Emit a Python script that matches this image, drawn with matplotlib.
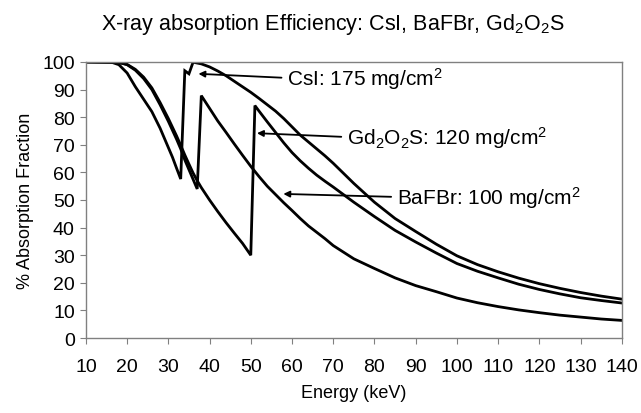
import numpy as np
import matplotlib.pyplot as plt

plt.rcParams['font.family'] = ['Liberation Sans', 'DejaVu Sans']
plt.rcParams['mathtext.fontset'] = 'custom'
plt.rcParams['mathtext.rm'] = 'Liberation Sans'
plt.rcParams['mathtext.it'] = 'Liberation Sans:italic'

# CsI 175 mg/cm2 (I K-edge ~33 keV, Cs K-edge ~36 keV)
csi_e = [10, 16, 18, 20, 22, 24, 26, 28, 30, 31, 32, 33, 34, 35, 36, 38, 40, 42, 44, 46, 48, 50,
         52, 54, 56, 58, 60, 62, 64, 66, 68, 70, 75, 80, 85, 90, 95, 100, 105, 110, 115, 120,
         125, 130, 135, 140]
csi_y = [100, 100, 99, 96, 91, 86.5, 82, 76, 69, 65.5, 61.5, 57.6, 96.8, 95.7, 99.9, 99.3, 98.2,
         96.7, 95, 93, 91, 89, 86.8, 84.5, 82.2, 79.5, 76.5, 73.5, 71, 68.5, 66, 63.3, 56,
         49.2, 43.3, 38.6, 34, 29.8, 26.6, 24, 21.7, 19.7, 18, 16.5, 15.2, 14.1]

# BaFBr 100 mg/cm2 (Ba K-edge ~37.4 keV)
bafbr_e = [10, 18, 20, 22, 24, 26, 28, 30, 32, 33, 34, 35, 36, 37, 38, 39, 40, 42, 44, 46, 48, 50,
           52, 54, 56, 58, 60, 62, 64, 66, 68, 70, 75, 80, 85, 90, 95, 100, 105, 110, 115, 120,
           125, 130, 135, 140]
bafbr_y = [100, 99.8, 99, 97, 94, 90, 84.5, 78.5, 72, 68.5, 64.5, 61, 57.5, 54, 87.8, 85.5, 83.2,
           78.6, 74.5, 70.3, 66.2, 62.2, 58.5, 55, 52, 49, 46.2, 43.3, 40.6, 38.3, 36, 33.5,
           28.7, 25.2, 21.8, 19, 16.8, 14.5, 12.8, 11.4, 10.2, 9.2, 8.3, 7.6, 6.9, 6.4]

# Gd2O2S 120 mg/cm2 (Gd K-edge ~50.2 keV)
gos_e = [10, 18, 20, 22, 24, 26, 28, 30, 32, 33, 34, 35, 36, 37, 38, 40, 42, 44, 46, 48, 50, 51,
         52, 54, 56, 58, 60, 62, 64, 66, 68, 70, 75, 80, 85, 90, 95, 100, 105, 110, 115, 120,
         125, 130, 135, 140]
gos_y = [100, 99.8, 99.1, 97.3, 94.5, 90.6, 85.3, 79.5, 73.2, 69.8, 66.3, 63, 59.8, 57, 54.5, 50,
         45.8, 41.8, 38, 34.3, 30, 84.2, 82.2, 78.3, 74.5, 70.7, 67.2, 64.2, 61.5, 59, 56.8, 54.7,
         49.2, 44, 39, 34.8, 30.8, 27, 24.2, 21.8, 19.5, 17.6, 16, 14.6, 13.6, 12.7]

fig = plt.figure(figsize=(6.41, 4.14), dpi=100)
ax = fig.add_axes([0.134, 0.181, 0.836, 0.667])

for e, y in [(csi_e, csi_y), (bafbr_e, bafbr_y), (gos_e, gos_y)]:
    ax.plot(e, y, color='black', lw=2, solid_joinstyle='miter')

ax.set_xlim(10, 140)
ax.set_ylim(0, 100)
ax.set_xticks(np.arange(10, 141, 10))
ax.set_yticks(np.arange(0, 101, 10))
for s in ax.spines.values():
    s.set_color('#808080')
    s.set_linewidth(1)
ax.tick_params(axis='both', direction='out', length=4, color='#808080', labelsize=14)
ax.tick_params(axis='x', pad=10)
ax.tick_params(axis='y', pad=4)

ax.set_xlabel('Energy (keV)', fontsize=13, labelpad=7)
ax.set_ylabel('% Absorption Fraction', fontsize=13, labelpad=6)
fig.suptitle('X-ray absorption Efficiency: CsI, BaFBr, Gd$_2$O$_2$S', fontsize=15.5, x=0.52, y=0.972)

arrow = dict(arrowstyle='-|>', color='black', lw=1.3, mutation_scale=9, relpos=(0, 0.5), shrinkB=0)
ax.annotate('CsI: 175 mg/cm$^2$', xy=(37.3, 95.7), xytext=(58.8, 94.2),
            fontsize=15, va='center', ha='left', arrowprops=arrow)
ax.annotate('Gd$_2$O$_2$S: 120 mg/cm$^2$', xy=(51.5, 74.2), xytext=(73.3, 72.8),
            fontsize=15, va='center', ha='left', arrowprops=arrow)
ax.annotate('BaFBr: 100 mg/cm$^2$', xy=(57.9, 52.2), xytext=(85.4, 51.1),
            fontsize=15, va='center', ha='left', arrowprops=arrow)

fig.savefig('out.png', dpi=100)
